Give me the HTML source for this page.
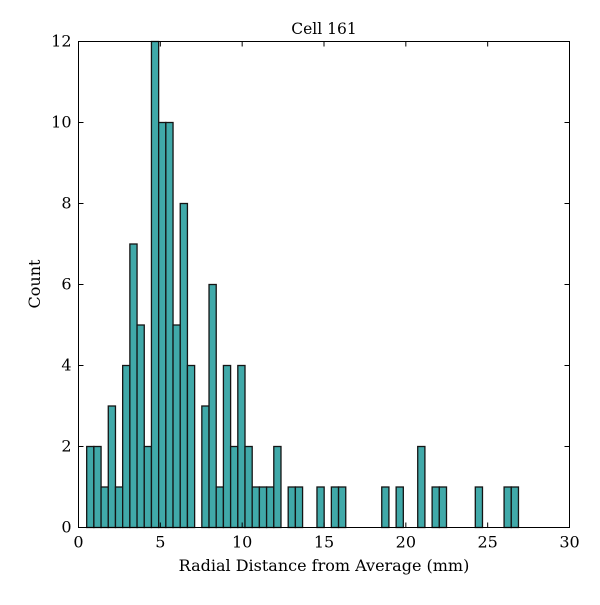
<!DOCTYPE html>
<html><head><meta charset="utf-8"><style>body{margin:0;background:#fff}svg text{font-family:"DejaVu Serif","Liberation Serif",serif;fill:#000}</style></head>
<body>
<svg width="600" height="600" viewBox="0 0 600 600">
<rect width="600" height="600" fill="#fff"/>
<g id="bars"></g>
<rect x="78.5" y="41.5" width="491" height="486" fill="none" stroke="#000" stroke-width="1"/>
<g id="ticks"></g>
<text x="324" y="34" font-size="15.5" text-anchor="middle">Cell 161</text>
<text x="324" y="571" font-size="16" text-anchor="middle">Radial Distance from Average (mm)</text>
<text x="40" y="284" font-size="16" text-anchor="middle" transform="rotate(-90 40 284)">Count</text>
</svg>
<script>
const binStart = 0.5;
const binWidth = 0.4397;
const counts = [2,2,1,3,1,4,7,5,2,12,10,10,5,8,4,0,3,6,1,4,2,4,2,1,1,1,2,0,1,1,0,0,1,0,1,1,0,0,0,0,0,1,0,1,0,0,2,0,1,1,0,0,0,0,1,0,0,0,1,1];
const xTicks = [0,5,10,15,20,25,30];
const yTicks = [0,2,4,6,8,10,12];
const X0=78.5,X1=569.5,Y0=527.5,Y1=41.5;
const xs=v=>X0+(v/30)*(X1-X0);
const ys=v=>Y0-(v/12)*(Y0-Y1);
const NS="http://www.w3.org/2000/svg";
const bars=document.getElementById('bars');
counts.forEach((c,i)=>{
  if(c<=0) return;
  const r=document.createElementNS(NS,'rect');
  const a=xs(binStart+i*binWidth), b=xs(binStart+(i+1)*binWidth);
  r.setAttribute('x',a);r.setAttribute('width',b-a);
  r.setAttribute('y',ys(c));r.setAttribute('height',ys(0)-ys(c));
  r.setAttribute('fill','#40a9a9');r.setAttribute('stroke','#141414');r.setAttribute('stroke-width','1.3');
  
  
  bars.appendChild(r);
});
const tk=document.getElementById('ticks');
function line(x1,y1,x2,y2){const l=document.createElementNS(NS,'line');l.setAttribute('x1',x1);l.setAttribute('y1',y1);l.setAttribute('x2',x2);l.setAttribute('y2',y2);l.setAttribute('stroke','#000');tk.appendChild(l);return l;}
function text(x,y,s,anchor){const t=document.createElementNS(NS,'text');t.setAttribute('x',x);t.setAttribute('y',y);t.setAttribute('font-size','16');t.setAttribute('text-anchor',anchor);t.textContent=s;tk.appendChild(t);return t;}
xTicks.forEach(v=>{const x=xs(v);
  const l1=line(x,Y0,x,Y0-5);
  const l2=line(x,Y1,x,Y1+5);
  const t=text(x,Y0+20,String(v),'middle');});
yTicks.forEach(v=>{const y=ys(v);
  const l1=line(X0,y,X0+5,y);
  const l2=line(X1,y,X1-5,y);
  const t=text(X0-7,y+5,String(v),'end');});
</script>
</body></html>
